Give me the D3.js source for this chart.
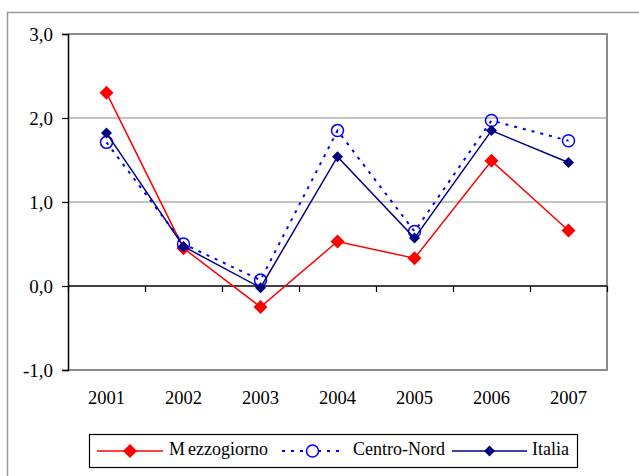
<!DOCTYPE html>
<html>
  <head>
    <meta charset="utf-8">
    <script src="https://d3js.org/d3.v7.min.js"></script>
    <style>
      body { margin: 0; background: #fff; }
      svg text { font-family: "Liberation Serif", "DejaVu Serif", "Times New Roman", serif !important; fill: #000; }
    </style>
  </head>
  <body>
    <script>

      // data
      var years = ["2001", "2002", "2003", "2004", "2005", "2006", "2007"];
      var mezzogiorno = [2.30, 0.45, -0.25, 0.53, 0.33, 1.49, 0.66];
      var centroNord = [1.71, 0.50, 0.07, 1.85, 0.65, 1.97, 1.73];
      var italia = [1.82, 0.47, -0.02, 1.54, 0.57, 1.85, 1.47];
      var yTicks = [-1, 0, 1, 2, 3];

      // setup
      var w = 639, h = 476;
      var plot = { left: 68, right: 607, top: 34, bottom: 370 };
      var serif = "Liberation Serif, DejaVu Serif, serif";

      var svg = d3.select("body").append("svg")
          .attr("width", w)
          .attr("height", h)
          .attr("font-family", serif);

      // outer frame (runs off the bottom and right of the picture)
      svg.append("rect")
          .attr("x", 7.5).attr("y", 12.5)
          .attr("width", 700).attr("height", 600)
          .attr("fill", "#fff")
          .attr("stroke", "#9a9a9a")
          .attr("stroke-width", 1.5);

      var xScale = d3.scaleBand().domain(years).range([plot.left, plot.right]);
      var xEdge = d3.scaleLinear().domain([0, years.length]).range([plot.left, plot.right]);
      var yScale = d3.scaleLinear().domain([-1, 3]).range([plot.bottom, plot.top]);

      var fmt = function(d) { return d3.format(".1f")(d).replace(".", ",").replace("\u2212", "-"); };

      // gridlines
      svg.append("g")
        .selectAll("line")
        .data([1, 2])
        .join("line")
          .attr("x1", plot.left).attr("x2", plot.right)
          .attr("y1", d => yScale(d)).attr("y2", d => yScale(d))
          .attr("stroke", "#c4c4c4")
          .attr("stroke-width", 2);

      // plot border top/right/bottom
      svg.append("path")
          .attr("d", "M" + plot.left + "," + plot.top + "H" + plot.right + "V" + plot.bottom + "H" + plot.left)
          .attr("fill", "none")
          .attr("stroke", "#8c8c8c")
          .attr("stroke-width", 2);

      // y axis
      var yAxis = d3.axisLeft(yScale)
          .tickValues(yTicks)
          .tickSize(6)
          .tickPadding(9)
          .tickFormat(fmt);
      var gy = svg.append("g")
          .attr("transform", "translate(" + plot.left + ",0)")
          .call(yAxis)
          .attr("font-family", serif)
          .attr("font-size", 19);
      gy.select(".domain").attr("stroke", "#000").attr("stroke-width", 1.5);
      gy.selectAll(".tick line").attr("stroke", "#000").attr("stroke-width", 1.2);
      gy.selectAll(".tick text").attr("fill", "#000");

      // x axis on zero line, ticks between categories
      var xAxis = d3.axisBottom(xEdge)
          .tickValues(d3.range(years.length + 1))
          .tickSize(6)
          .tickFormat("");
      var gx = svg.append("g")
          .attr("transform", "translate(0," + yScale(0) + ")")
          .call(xAxis);
      gx.select(".domain").attr("stroke", "#000").attr("stroke-width", 1.5)
          .attr("d", "M" + plot.left + ",0H" + plot.right);
      gx.selectAll(".tick line").attr("stroke", "#000").attr("stroke-width", 1.2);

      // category labels
      svg.append("g")
        .selectAll("text")
        .data(years)
        .join("text")
          .attr("x", d => xScale(d) + xScale.bandwidth() / 2)
          .attr("y", 403.5)
          .attr("text-anchor", "middle")
          .attr("font-size", 18.5)
          .text(d => d);

      var cx = function(d, i) { return xScale(years[i]) + xScale.bandwidth() / 2; };
      var diamond = function(r) { return "M0," + (-r) + "L" + r + ",0L0," + r + "L" + (-r) + ",0Z"; };

      var series = [
        { name: "Mezzogiorno", values: mezzogiorno, color: "#ff0000", dash: null, width: 1.5, marker: "diamond", size: 7 },
        { name: "Centro-Nord", values: centroNord, color: "#0000ff", dash: "3,6", width: 2, marker: "circle", size: 6 },
        { name: "Italia", values: italia, color: "#000080", dash: null, width: 1.5, marker: "diamond", size: 5.5 }
      ];

      var line = d3.line()
          .x(cx)
          .y(d => yScale(d));

      series.forEach(function(s) {
        var g = svg.append("g");
        g.append("path")
            .datum(s.values)
            .attr("d", line)
            .attr("fill", "none")
            .attr("stroke", s.color)
            .attr("stroke-width", s.width)
            .attr("stroke-dasharray", s.dash);
        if (s.marker === "diamond") {
          g.selectAll("path.m")
            .data(s.values)
            .join("path")
              .attr("class", "m")
              .attr("transform", (d, i) => "translate(" + cx(d, i) + "," + yScale(d) + ")")
              .attr("d", diamond(s.size))
              .attr("fill", s.color);
        } else {
          g.selectAll("circle")
            .data(s.values)
            .join("circle")
              .attr("cx", cx)
              .attr("cy", d => yScale(d))
              .attr("r", s.size)
              .attr("fill", "none")
              .attr("stroke", s.color)
              .attr("stroke-width", 1.5);
        }
      });

      // legend
      var legend = svg.append("g");
      legend.append("rect")
          .attr("x", 89.5).attr("y", 434.5)
          .attr("width", 488).attr("height", 33)
          .attr("fill", "#fff")
          .attr("stroke", "#000")
          .attr("stroke-width", 1.2);

      var legendPos = [
        { x1: 97, x2: 163, text: 169 },
        { x1: 282, x2: 343, text: 353 },
        { x1: 452, x2: 527, text: 532 }
      ];
      var ly = 451;
      series.forEach(function(s, i) {
        var p = legendPos[i];
        var mx = (p.x1 + p.x2) / 2;
        legend.append("line")
            .attr("x1", p.x1).attr("x2", p.x2)
            .attr("y1", ly).attr("y2", ly)
            .attr("stroke", s.color)
            .attr("stroke-width", s.width)
            .attr("stroke-dasharray", s.dash);
        if (s.marker === "diamond") {
          legend.append("path")
              .attr("transform", "translate(" + mx + "," + ly + ")")
              .attr("d", diamond(s.size))
              .attr("fill", s.color);
        } else {
          legend.append("circle")
              .attr("cx", mx).attr("cy", ly).attr("r", s.size)
              .attr("fill", "#fff")
              .attr("stroke", s.color)
              .attr("stroke-width", 1.5);
        }
        var t = legend.append("text")
            .attr("x", p.text)
            .attr("y", 455)
            .attr("font-size", 18);
        // the reference leaves a small gap after the first letter of "Mezzogiorno"
        if (i === 0) {
          t.append("tspan").text(s.name.charAt(0));
          t.append("tspan").attr("dx", 3).text(s.name.slice(1));
        } else {
          t.text(s.name);
        }
      });

    </script>
  </body>
</html>
